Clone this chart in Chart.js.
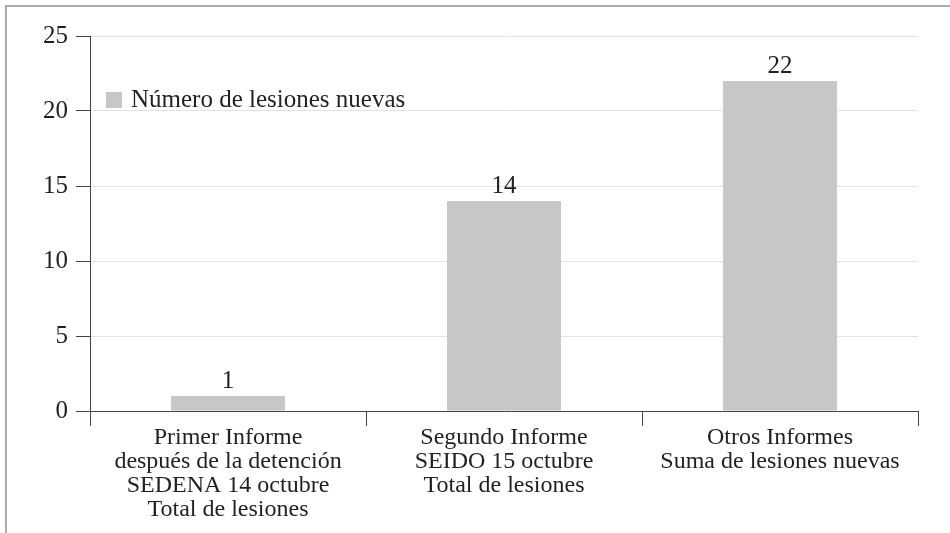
<!DOCTYPE html>
<html>
<head>
<meta charset="utf-8">
<script src="https://cdn.jsdelivr.net/npm/chart.js@4/dist/chart.umd.min.js"></script>
<style>
  html, body { margin: 0; padding: 0; background: #fff; }
  #wrap { position: relative; width: 950px; height: 533px; overflow: hidden; }
  #frame { position: absolute; left: 5px; top: 5px; width: 1000px; height: 600px;
           border-top: 2px solid #ababab; border-left: 2px solid #ababab; }
  #chLesiones { position: absolute; left: 0; top: 0; }
</style>
</head>
<body>
<div id="wrap">
  <div id="frame"></div>
  <canvas id="chLesiones" width="950" height="533"></canvas>
</div>
<script>
// chart data
var categories = [
    ['Primer Informe', 'después de la detención', 'SEDENA 14 octubre', 'Total de lesiones'],
    ['Segundo Informe', 'SEIDO 15 octubre', 'Total de lesiones'],
    ['Otros Informes', 'Suma de lesiones nuevas']
];
var lesiones = [1, 14, 22];
var seriesName = 'Número de lesiones nuevas';
var yMax = 25;
var yStep = 5;

var textColor = '#231f20';
var barColor = '#c6c7c9';
var serif = '"Liberation Serif", "Times New Roman", serif';

// value above each bar
var valueLabels = {
    id: 'valueLabels',
    afterDatasetsDraw: function (chart) {
        var ctx = chart.ctx;
        var meta = chart.getDatasetMeta(0);
        ctx.save();
        ctx.font = '25px ' + serif;
        ctx.fillStyle = textColor;
        ctx.textAlign = 'center';
        ctx.textBaseline = 'middle';
        meta.data.forEach(function (bar, i) {
            ctx.fillText(String(chart.data.datasets[0].data[i]), bar.x, bar.y - 15);
        });
        ctx.restore();
    }
};

// legend drawn inside the plot area
var innerLegend = {
    id: 'innerLegend',
    afterDraw: function (chart) {
        var ctx = chart.ctx;
        var area = chart.chartArea;
        var x = area.left + 16;
        var y = area.top + 64;
        ctx.save();
        ctx.fillStyle = barColor;
        ctx.fillRect(x, y - 8, 16, 16);
        ctx.font = '25px ' + serif;
        ctx.fillStyle = textColor;
        ctx.textAlign = 'left';
        ctx.textBaseline = 'middle';
        ctx.fillText(chart.data.datasets[0].label, x + 25, y);
        ctx.restore();
    }
};

var chLesiones = document.getElementById('chLesiones');
if (chLesiones) {
    new Chart(chLesiones, {
        type: 'bar',
        data: {
            labels: categories,
            datasets: [{
                label: seriesName,
                data: lesiones,
                backgroundColor: barColor,
                borderWidth: 0,
                barPercentage: 0.413,
                categoryPercentage: 1
            }]
        },
        options: {
            responsive: false,
            animation: false,
            layout: { padding: { top: 36, right: 32, left: 0, bottom: 0 } },
            plugins: {
                legend: { display: false },
                tooltip: { enabled: false }
            },
            scales: {
                x: {
                    afterFit: function (scale) { scale.height = 122; },
                    grid: {
                        offset: true,
                        drawOnChartArea: false,
                        tickLength: 15,
                        tickColor: '#444444',
                        tickWidth: 1
                    },
                    border: { color: '#444444', width: 1 },
                    ticks: {
                        color: textColor,
                        padding: 0,
                        font: { family: serif, size: 24, lineHeight: 1.0 },
                        maxRotation: 0,
                        autoSkip: false
                    }
                },
                y: {
                    min: 0,
                    max: yMax,
                    afterFit: function (scale) { scale.width = 90; },
                    grid: {
                        color: '#e3e3e3',
                        lineWidth: 1,
                        tickLength: 14,
                        tickColor: '#444444'
                    },
                    border: { color: '#444444', width: 1 },
                    ticks: {
                        stepSize: yStep,
                        padding: 8,
                        color: textColor,
                        font: { family: serif, size: 25 }
                    }
                }
            }
        },
        plugins: [valueLabels, innerLegend]
    });
}
</script>
</body>
</html>
